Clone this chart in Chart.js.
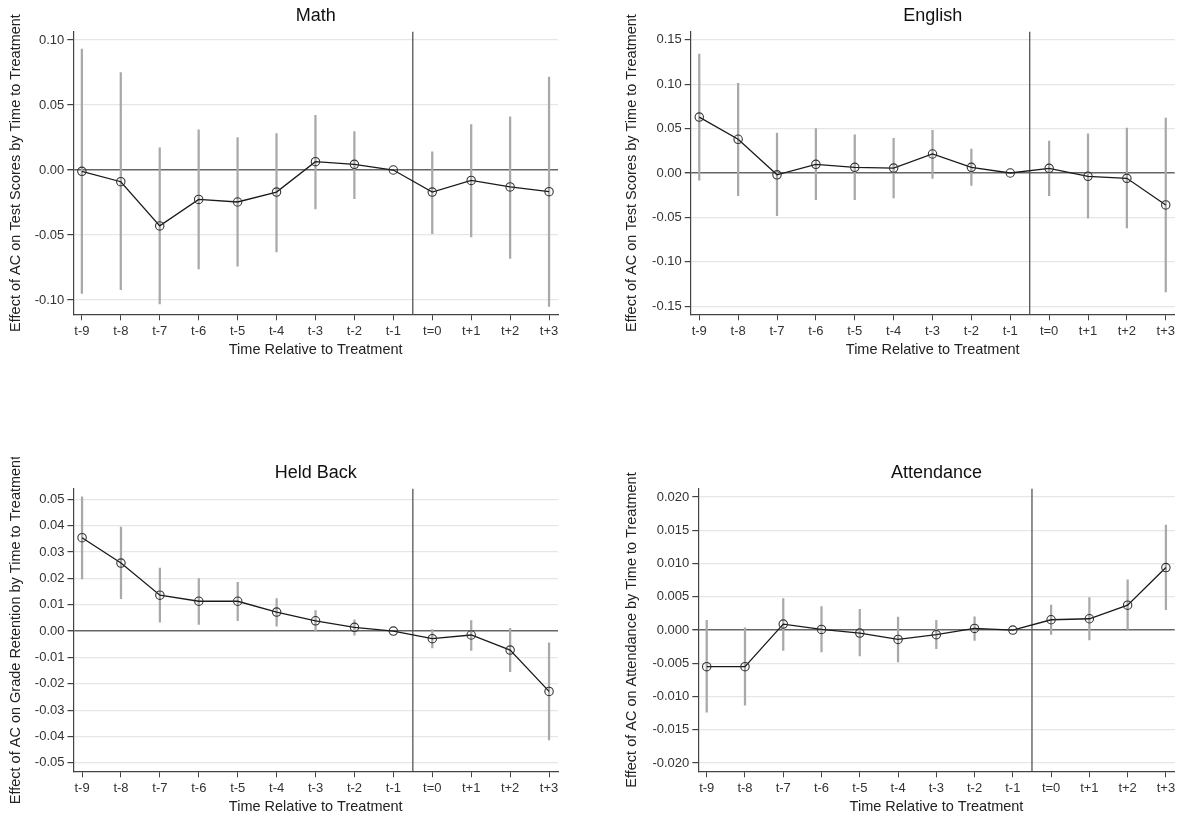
<!DOCTYPE html>
<html>
<head>
<meta charset="utf-8">
<script src="https://cdn.jsdelivr.net/npm/chart.js@4"></script>
<style>
  html, body { margin: 0; padding: 0; background: #fff; }
  body { width: 1180px; height: 817px; position: relative; overflow: hidden; }
  .panel { position: absolute; }
</style>
</head>
<body>
<div class="panel" style="left:0px;top:0px;width:566px;height:362px"><canvas id="math"></canvas></div>
<div class="panel" style="left:616px;top:0px;width:564px;height:362px"><canvas id="english"></canvas></div>
<div class="panel" style="left:0px;top:457px;width:566px;height:362px"><canvas id="held"></canvas></div>
<div class="panel" style="left:616px;top:457px;width:564px;height:362px"><canvas id="attendance"></canvas></div>
<script>
// periodos relativos al tratamiento
const categories = ['t-9', 't-8', 't-7', 't-6', 't-5', 't-4', 't-3', 't-2', 't-1', 't=0', 't+1', 't+2', 't+3'];

// Math
const mathEst = [-0.001, -0.009, -0.043, -0.0226, -0.0246, -0.017, 0.0064, 0.0044, 0, -0.017, -0.008, -0.013, -0.0167];
const mathLo = [-0.095, -0.092, -0.103, -0.076, -0.074, -0.063, -0.030, -0.022, null, -0.049, -0.0515, -0.068, -0.105];
const mathHi = [0.093, 0.075, 0.017, 0.031, 0.025, 0.028, 0.042, 0.0295, null, 0.014, 0.035, 0.041, 0.0715];
const mathTicks = [-0.10, -0.05, 0, 0.05, 0.10];

// English
const englishEst = [0.063, 0.038, -0.002, 0.0098, 0.0064, 0.0056, 0.0214, 0.0064, 0, 0.0053, -0.0038, -0.006, -0.036];
const englishLo = [-0.008, -0.0255, -0.048, -0.030, -0.030, -0.028, -0.006, -0.014, null, -0.0255, -0.051, -0.062, -0.134];
const englishHi = [0.134, 0.101, 0.045, 0.050, 0.043, 0.039, 0.048, 0.027, null, 0.036, 0.044, 0.0507, 0.062];
const englishTicks = [-0.15, -0.10, -0.05, 0, 0.05, 0.10, 0.15];

// Held Back
const heldEst = [0.0354, 0.0258, 0.0136, 0.0113, 0.0113, 0.0072, 0.0039, 0.0014, 0, -0.0029, -0.0015, -0.0072, -0.0229];
const heldLo = [0.0198, 0.0123, 0.0034, 0.0025, 0.0039, 0.0019, 0.0001, -0.0016, null, -0.0064, -0.0073, -0.0154, -0.0413];
const heldHi = [0.0509, 0.0394, 0.0239, 0.0199, 0.0185, 0.0123, 0.0078, 0.0043, null, 0.0006, 0.004, 0.001, -0.0045];
const heldTicks = [-0.05, -0.04, -0.03, -0.02, -0.01, 0, 0.01, 0.02, 0.03, 0.04, 0.05];

// Attendance
const attEst = [-0.0055, -0.0055, 0.0009, 0.0001, -0.00045, -0.0014, -0.0007, 0.00025, 0, 0.00155, 0.0017, 0.00375, 0.0094];
const attLo = [-0.01235, -0.0113, -0.00305, -0.0033, -0.0039, -0.0048, -0.0028, -0.00155, null, -0.00065, -0.0015, 0.0, 0.00305];
const attHi = [0.00145, 0.00035, 0.00475, 0.00355, 0.0031, 0.00195, 0.00145, 0.002, null, 0.00375, 0.0049, 0.00755, 0.0158];
const attTicks = [-0.020, -0.015, -0.010, -0.005, 0, 0.005, 0.010, 0.015, 0.020];

const FONT = 'Arial, "Liberation Sans", sans-serif';

// linea vertical entre t-1 y t=0
const treatLine = {
    id: 'treatLine',
    beforeDatasetsDraw(chart) {
        const { ctx, chartArea, scales } = chart;
        const x = scales.x.getPixelForValue(8.5);
        ctx.save();
        ctx.strokeStyle = '#555';
        ctx.lineWidth = 1.3;
        ctx.beginPath();
        ctx.moveTo(x, chartArea.top);
        ctx.lineTo(x, chartArea.bottom);
        ctx.stroke();
        ctx.restore();
    }
};

function makePanel(id, title, yTitle, est, lo, hi, yTicks, yMin, yMax, decimals, axisWidth, rightPad) {
    new Chart(document.getElementById(id), {
        type: 'line',
        data: {
            datasets: [
                {
                    type: 'line',
                    data: est.map((v, i) => ({ x: i, y: v })),
                    borderColor: '#1a1a1a',
                    borderWidth: 1.3,
                    pointRadius: 4.2,
                    pointBorderWidth: 1.1,
                    pointBorderColor: '#333',
                    pointBackgroundColor: 'rgba(0,0,0,0)',
                    tension: 0,
                    order: 0
                },
                {
                    type: 'bar',
                    data: lo.map((v, i) => ({ x: i, y: v === null ? null : [v, hi[i]] })),
                    backgroundColor: '#a9a9a9',
                    barThickness: 1.6,
                    order: 1
                }
            ]
        },
        options: {
            responsive: true,
            maintainAspectRatio: false,
            animation: false,
            layout: { padding: { left: 0, right: rightPad, top: 0, bottom: 0 } },
            plugins: {
                legend: { display: false },
                tooltip: { enabled: false },
                title: {
                    display: true,
                    text: title,
                    fullSize: false,
                    color: '#111',
                    font: { family: FONT, size: 18, weight: 'normal' },
                    padding: { top: 5.5, bottom: 4.6 }
                }
            },
            scales: {
                x: {
                    type: 'linear',
                    offset: false,
                    min: -0.22,
                    max: 12.23,
                    afterBuildTicks: axis => { axis.ticks = categories.map((_, i) => ({ value: i })); },
                    afterFit: scale => { scale.height = 47.7; },
                    ticks: {
                        autoSkip: false,
                        maxRotation: 0,
                        padding: 3,
                        color: '#333',
                        font: { family: FONT, size: 13 },
                        callback: v => categories[v]
                    },
                    grid: { offset: false, drawOnChartArea: false, drawTicks: true, tickLength: 6, tickColor: '#444' },
                    border: { display: true, color: '#444', width: 1.2 },
                    title: {
                        display: true,
                        text: 'Time Relative to Treatment',
                        color: '#222',
                        font: { family: FONT, size: 14.5 },
                        padding: { top: 0, bottom: 3.3 }
                    }
                },
                y: {
                    min: yMin,
                    max: yMax,
                    afterBuildTicks: axis => { axis.ticks = yTicks.map(v => ({ value: v })); },
                    afterFit: scale => { scale.width = axisWidth; },
                    ticks: {
                        padding: 3,
                        color: '#333',
                        font: { family: FONT, size: 13 },
                        callback: v => (Math.abs(v) < 1e-12 ? 0 : v).toFixed(decimals)
                    },
                    grid: {
                        color: c => (c.tick && Math.abs(c.tick.value) < 1e-12) ? '#666' : '#e6e6e6',
                        lineWidth: c => (c.tick && Math.abs(c.tick.value) < 1e-12) ? 1.4 : 1.2,
                        tickLength: 6,
                        tickColor: '#444'
                    },
                    border: { display: true, color: '#444', width: 1.2 },
                    title: {
                        display: true,
                        text: yTitle,
                        color: '#222',
                        font: { family: FONT, size: 14.5 },
                        padding: { top: 7, bottom: 0 }
                    }
                }
            }
        },
        plugins: [treatLine]
    });
}

makePanel('math', 'Math', 'Effect of AC on Test Scores by Time to Treatment',
    mathEst, mathLo, mathHi, mathTicks, -0.111, 0.1064, 2, 73.3, 8);
makePanel('english', 'English', 'Effect of AC on Test Scores by Time to Treatment',
    englishEst, englishLo, englishHi, englishTicks, -0.1592, 0.1592, 2, 74.7, 5);
makePanel('held', 'Held Back', 'Effect of AC on Grade Retention by Time to Treatment',
    heldEst, heldLo, heldHi, heldTicks, -0.0532, 0.0540, 2, 73.5, 8);
makePanel('attendance', 'Attendance', 'Effect of AC on Attendance by Time to Treatment',
    attEst, attLo, attHi, attTicks, -0.02124, 0.02126, 3, 82.3, 5);
</script>
</body>
</html>
